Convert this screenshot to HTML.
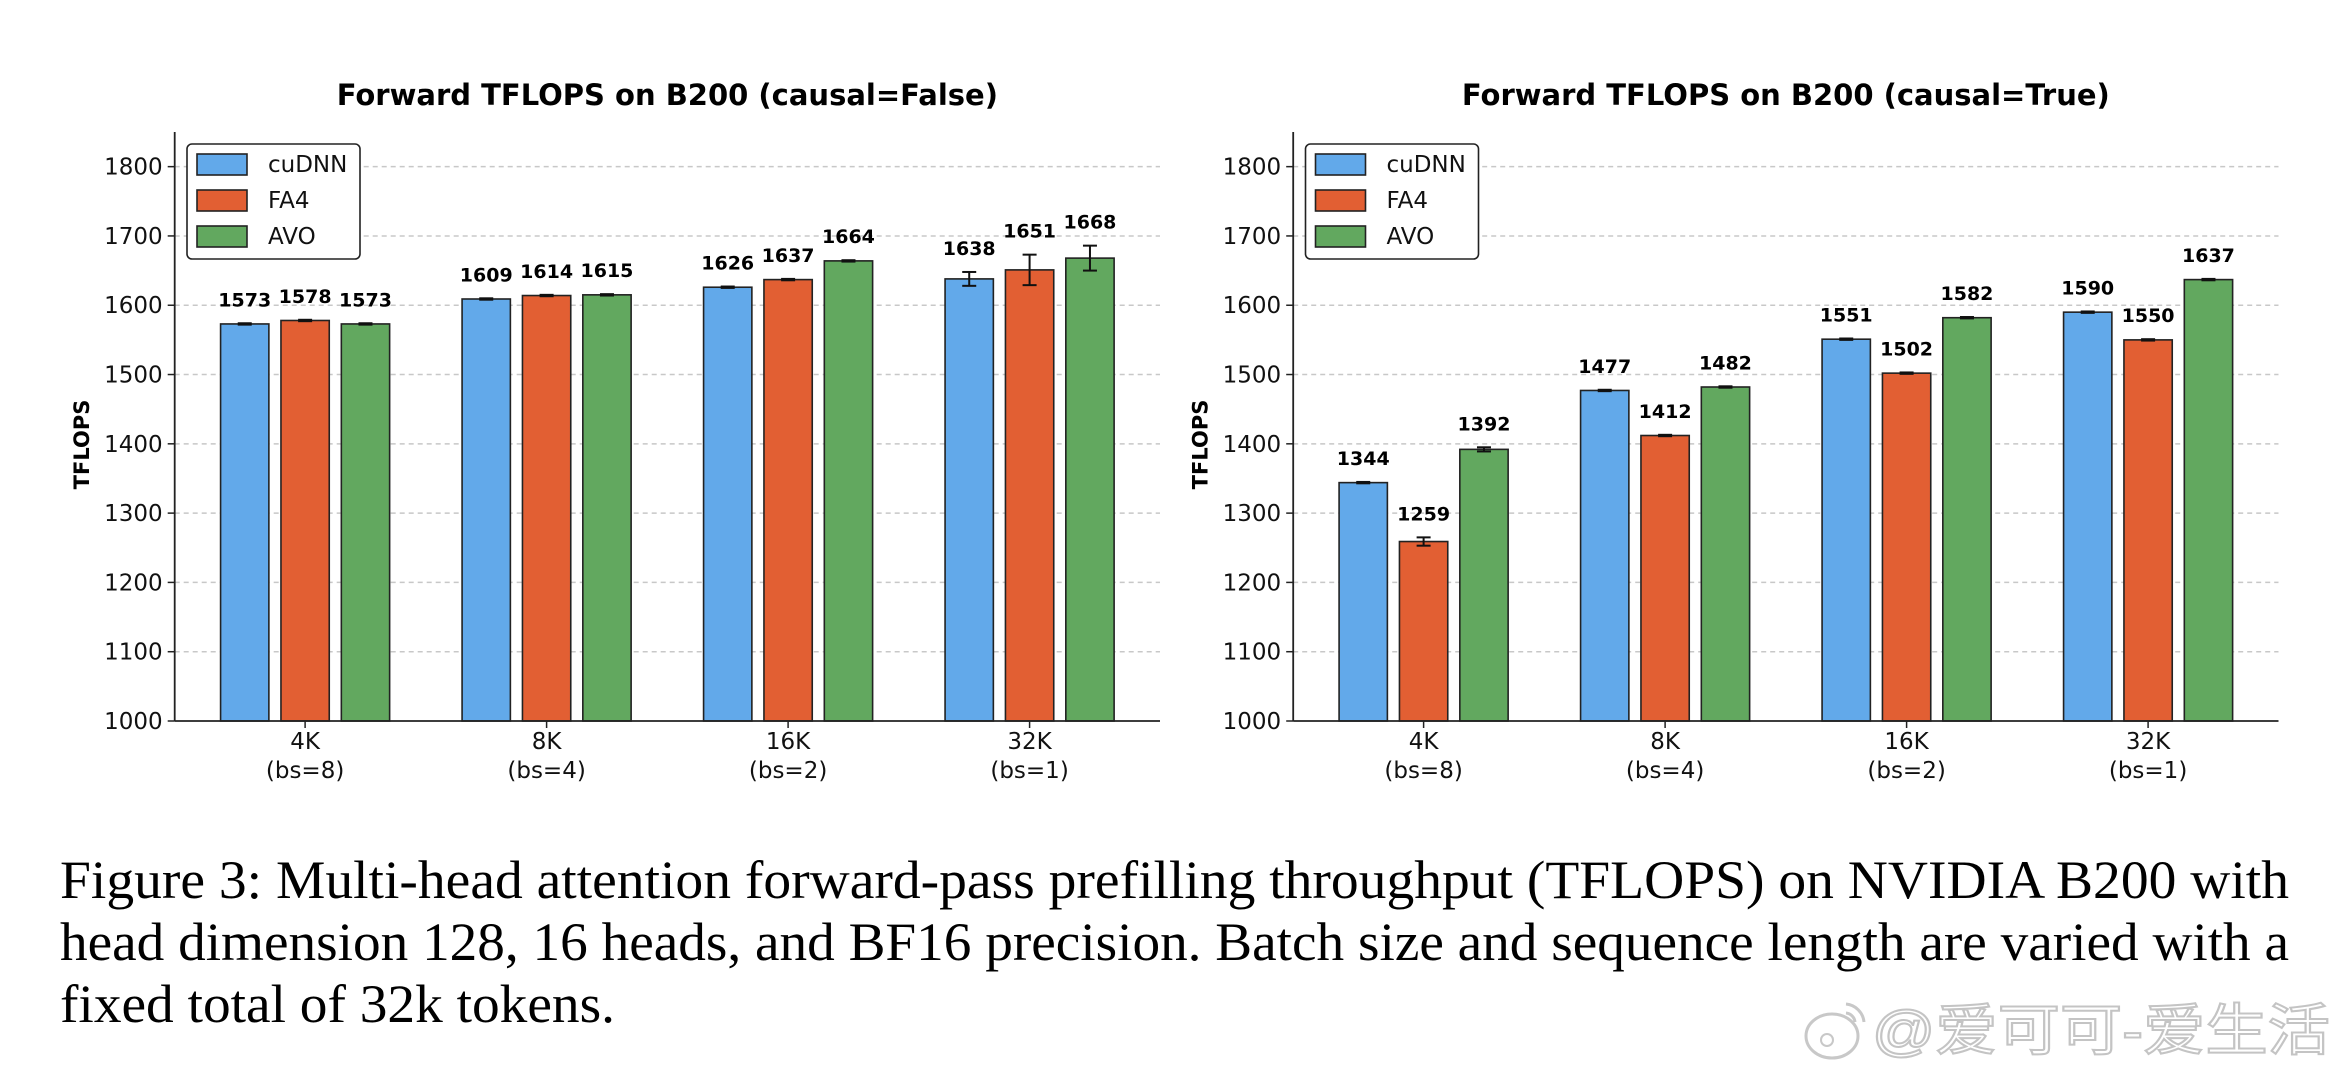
<!DOCTYPE html>
<html><head><meta charset="utf-8"><style>
html,body{margin:0;padding:0;background:#fff;}
svg{display:block;}
</style></head><body>
<svg id="fig" xmlns="http://www.w3.org/2000/svg" width="2341" height="1080" viewBox="0 0 2341 1080">
<rect width="2341" height="1080" fill="#fff"/>
<g id="chartL"></g>
<g id="chartR"></g>
<g font-family="Liberation Serif, serif" font-size="54" fill="#000">
<text x="60" y="898" textLength="2229" lengthAdjust="spacingAndGlyphs">Figure 3: Multi-head attention forward-pass prefilling throughput (TFLOPS) on NVIDIA B200 with</text>
<text x="60" y="960" textLength="2229" lengthAdjust="spacingAndGlyphs">head dimension 128, 16 heads, and BF16 precision. Batch size and sequence length are varied with a</text>
<text x="60" y="1022" textLength="555" lengthAdjust="spacingAndGlyphs">fixed total of 32k tokens.</text>
</g>
<g>
<ellipse cx="1832" cy="1036" rx="26" ry="22" fill="#fff" stroke="#c8c8c8" stroke-width="3"/>
<circle cx="1827" cy="1040" r="6" fill="none" stroke="#c8c8c8" stroke-width="2"/>
<path d="M1846 1004 a20 20 0 0 1 18 18 M1846 1013 a10 10 0 0 1 9 9" fill="none" stroke="#c8c8c8" stroke-width="3"/>
<text x="1872" y="1050" font-family="Liberation Sans, Noto Sans CJK SC, sans-serif" font-size="56" fill="#fff" stroke="#c4c4c4" stroke-width="2" textLength="458" lengthAdjust="spacingAndGlyphs">@爱可可-爱生活</text>
</g>
</svg>
<script>
const categories = ["4K","8K","16K","32K"];
const subLabels = ["(bs=8)","(bs=4)","(bs=2)","(bs=1)"];
const seriesNames = ["cuDNN","FA4","AVO"];
const yTicks = [1000,1100,1200,1300,1400,1500,1600,1700,1800];
const leftCuDNN = [1573,1609,1626,1638];
const leftFA4 = [1578,1614,1637,1651];
const leftAVO = [1573,1615,1664,1668];
const leftErrCuDNN = [1,1,1,10];
const leftErrFA4 = [1,1,1,22];
const leftErrAVO = [1,1,1,18];
const rightCuDNN = [1344,1477,1551,1590];
const rightFA4 = [1259,1412,1502,1550];
const rightAVO = [1392,1482,1582,1637];
const rightErrCuDNN = [1,1,1,1];
const rightErrFA4 = [6,1,1,1];
const rightErrAVO = [3,1,1,1];

const colors = ["#62a9ea","#e25f33","#62a85f"];
const NS = "http://www.w3.org/2000/svg";
function mk(parent, tag, attrs, text){
  const e = document.createElementNS(NS, tag);
  for (const k in attrs) e.setAttribute(k, attrs[k]);
  if (text !== undefined) e.textContent = text;
  parent.appendChild(e);
  return e;
}
function drawChart(g, ox, title, vals, errs){
  const x0 = ox + 174.7, x1 = ox + 1160, yBot = 721, yTop = 132;
  const xmin = -0.54, xmax = 3.54, ymin = 1000, ymax = 1850;
  const X = v => x0 + (v - xmin) / (xmax - xmin) * (x1 - x0);
  const Y = v => yBot - (v - ymin) / (ymax - ymin) * (yBot - yTop);
  const unit = X(1) - X(0);
  yTicks.forEach(t => {
    const y = Y(t);
    if (t > ymin) {
      const gl = mk(g, "line", {x1:x0, x2:x1, y1:y, y2:y, stroke:"#c8c8c8", "stroke-width":1.5, "stroke-dasharray":"5,4"});
      
      
    }
    mk(g, "line", {x1:x0-7, x2:x0, y1:y, y2:y, stroke:"#222", "stroke-width":1.5});
    const tl = mk(g, "text", {x:x0-12, y:y+8, "text-anchor":"end", "font-size":23, "font-family":"DejaVu Sans, sans-serif", fill:"#111"}, t);
    
    
  });
  vals.forEach((series, s) => {
    series.forEach((v, i) => {
      const cx = X(i + (s - 1) * 0.25);
      const w = unit * 0.2;
      const b = mk(g, "rect", {x:cx - w/2, y:Y(v), width:w, height:yBot - Y(v), fill:colors[s], stroke:"#222", "stroke-width":1.6});
      
      
      const e = errs[s][i];
      const yt = Y(v + e), yb = Y(v - e);
      mk(g, "line", {x1:cx, x2:cx, y1:yt, y2:yb, stroke:"#111", "stroke-width":2});
      mk(g, "line", {x1:cx-7, x2:cx+7, y1:yt, y2:yt, stroke:"#111", "stroke-width":2});
      mk(g, "line", {x1:cx-7, x2:cx+7, y1:yb, y2:yb, stroke:"#111", "stroke-width":2});
      const vl = mk(g, "text", {x:cx, y:yt - 17, "text-anchor":"middle", "font-size":19, "font-weight":"bold", "font-family":"DejaVu Sans, sans-serif", fill:"#000"}, v);
      
      
    });
  });
  mk(g, "line", {x1:x0, x2:x0, y1:yTop, y2:yBot, stroke:"#222", "stroke-width":1.8});
  mk(g, "line", {x1:x0, x2:x1, y1:yBot, y2:yBot, stroke:"#222", "stroke-width":1.8});
  categories.forEach((c, i) => {
    const x = X(i);
    mk(g, "line", {x1:x, x2:x, y1:yBot, y2:yBot + 7, stroke:"#222", "stroke-width":1.5});
    const xl = mk(g, "text", {x:x, y:yBot + 28, "text-anchor":"middle", "font-size":23, "font-family":"DejaVu Sans, sans-serif", fill:"#111"}, c);
    
    
    mk(g, "text", {x:x, y:yBot + 57, "text-anchor":"middle", "font-size":23, "font-family":"DejaVu Sans, sans-serif", fill:"#111"}, subLabels[i]);
  });
  const tt = mk(g, "text", {x:(x0 + x1) / 2, y:105, "text-anchor":"middle", "font-size":29, "font-weight":"bold", "font-family":"DejaVu Sans, sans-serif", fill:"#000"}, title);
  
  
  const yl = mk(g, "text", {x:0, y:0, transform:"translate(" + (ox + 89) + "," + ((yTop + yBot) / 2 + 18) + ") rotate(-90)", "text-anchor":"middle", "font-size":21, "font-weight":"bold", "font-family":"DejaVu Sans, sans-serif", fill:"#000"}, "TFLOPS");
  
  
  const lg = mk(g, "g", {});
  
  
  mk(lg, "rect", {x:ox + 187, y:144, width:173, height:115, rx:5, fill:"#fff", stroke:"#222", "stroke-width":1.6});
  seriesNames.forEach((n, s) => {
    const y = 164 + s * 36;
    const sw = mk(lg, "rect", {x:ox + 197, y:y - 10, width:50, height:21, fill:colors[s], stroke:"#222", "stroke-width":1.6});
    
    
    const lt = mk(lg, "text", {x:ox + 268, y:y + 8, "font-size":23, "font-family":"DejaVu Sans, sans-serif", fill:"#111"}, n);
    
    
  });
}
drawChart(document.getElementById("chartL"), 0, "Forward TFLOPS on B200 (causal=False)",
  [leftCuDNN, leftFA4, leftAVO], [leftErrCuDNN, leftErrFA4, leftErrAVO]);
drawChart(document.getElementById("chartR"), 1118.5, "Forward TFLOPS on B200 (causal=True)",
  [rightCuDNN, rightFA4, rightAVO], [rightErrCuDNN, rightErrFA4, rightErrAVO]);
</script>
</body></html>
